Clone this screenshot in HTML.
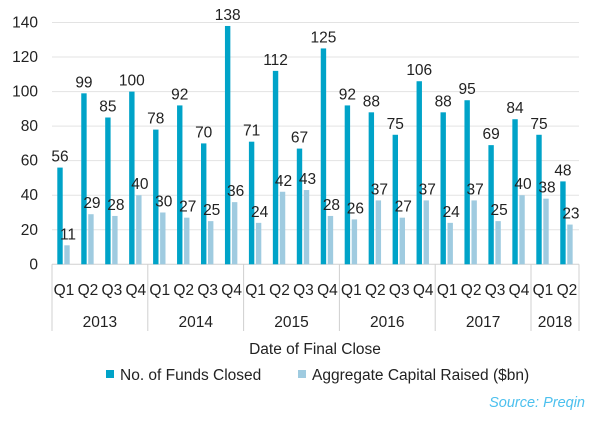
<!DOCTYPE html>
<html><head><meta charset="utf-8"><style>
body{margin:0;background:#fff}
svg text{font-family:"Liberation Sans",sans-serif;fill:#222}
</style></head><body>
<svg width="610" height="419" xmlns="http://www.w3.org/2000/svg">
<g id="g"></g>
</svg>
<script>
const d=[56,99,85,100,78,92,70,138,71,112,67,125,92,88,75,106,88,95,69,84,75,48];
const l=[11,29,28,40,30,27,25,36,24,42,43,28,26,37,27,37,24,37,25,40,38,23];
const y0=264.3,k=1.727,x0=52,w=23.95,fs=15.5;
let s='';
for(let v=0;v<=140;v+=20){const y=y0-v*k;
 if(v>0)s+=`<line x1="${x0}" x2="579" y1="${y}" y2="${y}" stroke="#e3e3e3" stroke-width="1"/>`;
 s+=`<text x="38" y="${y+5}" font-size="${fs}" text-anchor="end">${v}</text>`;}
s+=`<line x1="${x0}" x2="579" y1="${y0}" y2="${y0}" stroke="#d0d0d0"/>`;
for(let i=0;i<22;i++){const gx=x0+i*w;
 const hd=d[i]*k,hl=l[i]*k;
 s+=`<rect x="${gx+5.3}" y="${y0-hd}" width="5.4" height="${hd}" fill="#00a3c8"/>`;
 s+=`<rect x="${gx+12.3}" y="${y0-hl}" width="5.4" height="${hl}" fill="#9fcbe0"/>`;
 s+=`<text x="${gx+8}" y="${y0-hd-6}" font-size="${fs}" text-anchor="middle">${d[i]}</text>`;
 s+=`<text x="${gx+16}" y="${y0-hl-6}" font-size="${fs}" text-anchor="middle">${l[i]}</text>`;
 s+=`<text x="${gx+w/2}" y="295" font-size="${fs}" text-anchor="middle">Q${i%4+1}</text>`;}
for(let i=0;i<=22;i+=4){const xx=x0+i*w;s+=`<line x1="${xx}" x2="${xx}" y1="${y0}" y2="331" stroke="#d0d0d0"/>`;}
s+=`<line x1="579" x2="579" y1="${y0}" y2="331" stroke="#d0d0d0"/>`;
['2013','2014','2015','2016','2017','2018'].forEach((t,i)=>{const a=x0+i*4*w,b=i==5?579:a+4*w;
 s+=`<text x="${(a+b)/2}" y="327" font-size="${fs}" text-anchor="middle">${t}</text>`;});
s+=`<text x="315" y="354" font-size="${fs}" text-anchor="middle">Date of Final Close</text>`;
s+=`<rect x="106" y="370" width="8" height="8" fill="#00a3c8"/><text x="120" y="380" font-size="${fs}">No. of Funds Closed</text>`;
s+=`<rect x="298" y="370" width="8" height="8" fill="#9fcbe0"/><text x="312" y="380" font-size="${fs}">Aggregate Capital Raised ($bn)</text>`;
s+=`<text x="585" y="407" font-size="14.5" font-style="italic" text-anchor="end" style="fill:#4cc0ee">Source: Preqin</text>`;
document.getElementById('g').innerHTML=s;
</script>
</body></html>
